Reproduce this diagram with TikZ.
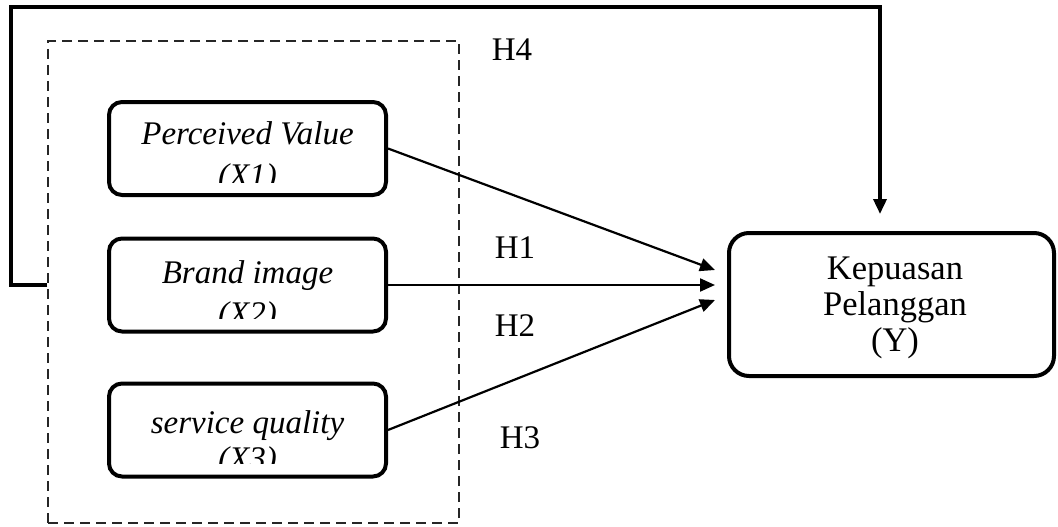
\documentclass[tikz,border=0pt]{standalone}
\usepackage{fontspec}
\setmainfont{Liberation Serif}
\usetikzlibrary{arrows.meta}
\begin{document}
\begin{tikzpicture}[x=1pt,y=-1pt,
  varbox/.style={draw,line width=4pt,rounded corners=13pt,minimum width=277pt,minimum height=93pt,inner sep=0pt},
  targetbox/.style={draw,line width=4pt,rounded corners=20pt,minimum width=325pt,minimum height=143pt,inner sep=0pt},
  targettext/.style={inner sep=0pt,align=center,font=\fontsize{34.5}{36}\selectfont},
  vartext/.style={anchor=base,inner sep=0pt,font=\fontsize{33}{36}\selectfont\itshape},
  hlabel/.style={anchor=base,inner sep=0pt,font=\fontsize{33}{36}\selectfont},
  link/.style={line width=2.2pt,-{Triangle[length=15pt,width=13pt]}},
  feedback/.style={line width=3.5pt,-{Triangle[length=15pt,width=13pt]}},
  group/.style={draw=black!85,line width=1.4pt,dash pattern=on 10pt off 6pt}
]
\useasboundingbox (0,0) rectangle (1058,527);

% grouping frame around the independent variables
\node[group,minimum width=411pt,minimum height=482pt,inner sep=0pt] (grp) at (253.5,282) {};

% independent variables
\node[varbox] (x1) at (247.5,148.5) {};
\node[varbox] (x2) at (247.5,285) {};
\node[varbox] (x3) at (247.5,430) {};

% their labels; the second line is cut off by the box
\begin{scope}
  \clip (108,102) rectangle (388,182);
  \node[vartext] (x1a) at (247.5,144) {Perceived Value};
  \node[vartext] (x1b) at (247.5,186) {(X1)};
\end{scope}
\begin{scope}
  \clip (108,237) rectangle (388,318);
  \node[vartext] (x2a) at (247.5,283) {Brand image};
  \node[vartext] (x2b) at (247.5,324) {(X2)};
\end{scope}
\begin{scope}
  \clip (108,384) rectangle (388,463);
  \node[vartext] (x3a) at (247.5,433) {service quality};
  \node[vartext] (x3b) at (247.5,469) {(X3)};
\end{scope}

% dependent variable
\node[targetbox] (y) at (891.5,304.5) {};
\node[targettext] (ytext) at (895,308) {Kepuasan\\Pelanggan\\(Y)};

% arrow end points in front of the dependent variable
\coordinate (t1) at (715,270);
\coordinate (t2) at (715,285);
\coordinate (t3) at (715,300);

\draw[link] (x1.east) -- (t1);
\draw[link] (x2.east) -- (t2);
\draw[link] (x3.east) -- (t3);

% simultaneous effect H4
\coordinate (f0) at (grp.west |- x2.east);
\coordinate (f1) at (11,285);
\coordinate (f2) at (11,7);
\coordinate (f3) at (880,7);
\coordinate (f4) at (880,214);
\draw[feedback] (f0) -- (f1) -- (f2) -- (f3) -- (f4);

% hypothesis labels
\node[hlabel] (h4) at (512,60) {H4};
\node[hlabel] (h1) at (515,258) {H1};
\node[hlabel] (h2) at (515,336) {H2};
\node[hlabel] (h3) at (520,448) {H3};
\end{tikzpicture}
\end{document}
